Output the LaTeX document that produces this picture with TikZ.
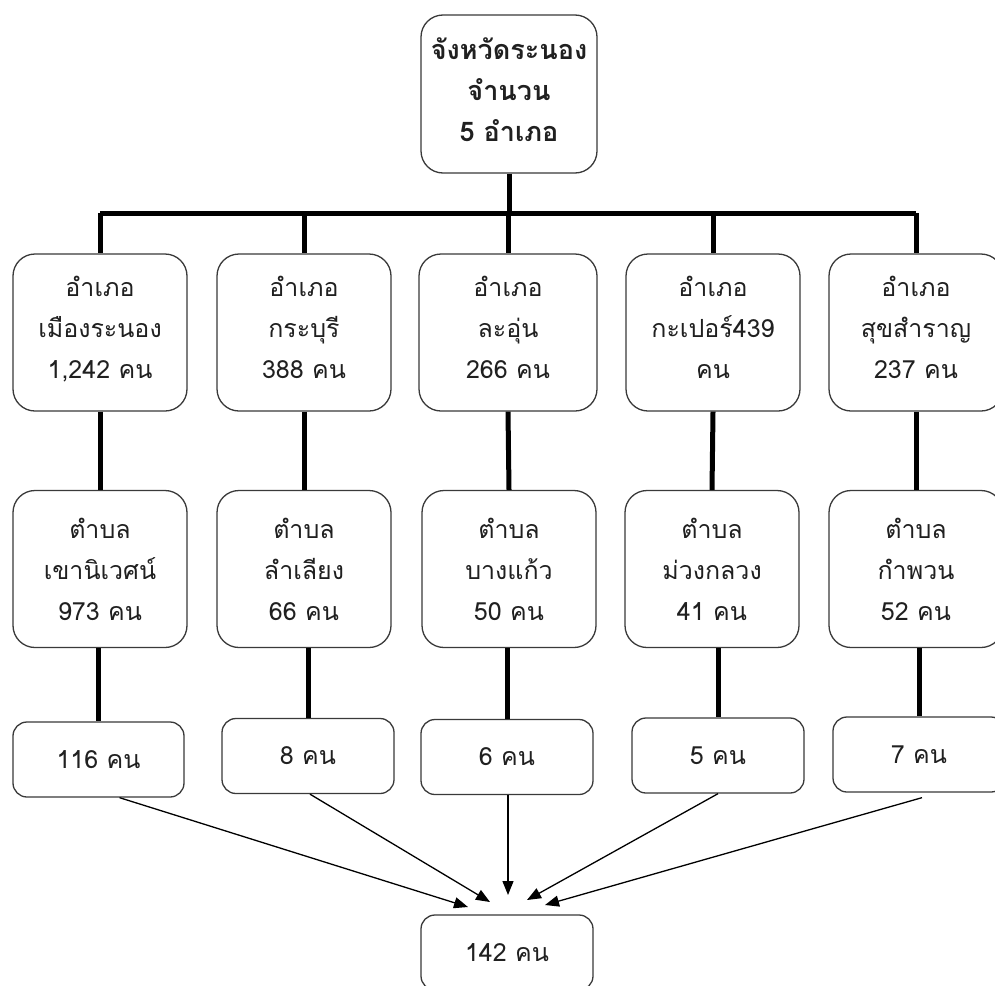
\documentclass[tikz,border=0pt]{standalone}
\usepackage{fontspec}
\newfontfamily\thaifont[Script=Thai]{Loma}
\usetikzlibrary{arrows.meta}
\definecolor{boxc}{HTML}{3A3A3A}
\definecolor{txtc}{HTML}{202020}
\newcommand\updepth[1]{\rule[-#1]{0pt}{#1}}
\begin{document}
\begin{tikzpicture}[x=1pt,y=-1pt,
  box/.style={draw=boxc, line width=1.3pt, rounded corners=22pt, minimum width=174pt, minimum height=157pt,
    align=center, inner sep=0pt, text=txtc, font={\thaifont\fontsize{25pt}{41pt}\selectfont}},
  topbox/.style={box, minimum width=176pt, minimum height=158pt, font={\thaifont\bfseries\fontsize{27pt}{41pt}\selectfont}},
  smallbox/.style={box, rounded corners=14pt, minimum width=172pt, minimum height=75pt},
  conn/.style={line width=5pt, draw=black},
  arr/.style={line width=1.3pt, draw=black, -{Triangle[length=14pt,width=11pt]}}]
\clip (0,0) rectangle (995,985);
\fill[white] (0,0) rectangle (995,985);

\node[topbox] (top) at (509,94) {จังหวัดระนอง\\จำนวน\\5 อำเภอ\updepth{9pt}};

\node[box] (r1a) at (100,332.5) {อำเภอ\\เมืองระนอง\\1,242 คน\updepth{10pt}};
\node[box] (r1b) at (304,332.5) {อำเภอ\\กระบุรี\\388 คน\updepth{10pt}};
\node[box, minimum width=178pt] (r1c) at (508,332.5) {อำเภอ\\ละอุ่น\\266 คน\updepth{10pt}};
\node[box] (r1d) at (713,332.5) {อำเภอ\\กะเปอร์439\\คน\updepth{10pt}};
\node[box] (r1e) at (916,332.5) {อำเภอ\\สุขสำราญ\\237 คน\updepth{10pt}};

\node[box] (r2a) at (100,569) {ตำบล\\เขานิเวศน์\\973 คน};
\node[box] (r2b) at (304,569) {ตำบล\\ลำเลียง\\66 คน};
\node[box] (r2c) at (509,569) {ตำบล\\บางแก้ว\\50 คน};
\node[box] (r2d) at (712,569) {ตำบล\\ม่วงกลวง\\41 คน};
\node[box] (r2e) at (916,569) {ตำบล\\กำพวน\\52 คน};

\node[smallbox, minimum width=171pt] (r3a) at (98.5,759.5) {116 คน};
\node[smallbox] (r3b) at (308,756) {8 คน};
\node[smallbox] (r3c) at (507,757) {6 คน};
\node[smallbox] (r3d) at (718,755.5) {5 คน};
\node[smallbox] (r3e) at (919,754.5) {7 คน};

\node[smallbox] (bot) at (507,952.5) {142 คน};

\coordinate (bar) at (509,213);
\draw[conn] (top.south) -- (bar);
\draw[conn] (r1a.north |- bar) -- (r1e.north |- bar);
\foreach \n in {a,b,c,d,e}{
  \draw[conn] (r1\n.north |- bar) -- (r1\n.north);
  \draw[conn] (r1\n.south) -- (r2\n.north);
  \draw[conn] (r3\n.north |- r2\n.south) -- (r3\n.north);
}

\coordinate (t1) at (468,907);
\coordinate (t2) at (490,902);
\coordinate (t3) at (508,895);
\coordinate (t4) at (527,900);
\coordinate (t5) at (545,905);
\draw[arr] ([xshift=21pt]r3a.south) -- (t1);
\draw[arr] ([xshift=2pt]r3b.south) -- (t2);
\draw[arr] ([xshift=1pt]r3c.south) -- (t3);
\draw[arr] (r3d.south) -- (t4);
\draw[arr] ([xshift=3pt,yshift=-5pt]r3e.south) -- (t5);
\end{tikzpicture}
\end{document}
